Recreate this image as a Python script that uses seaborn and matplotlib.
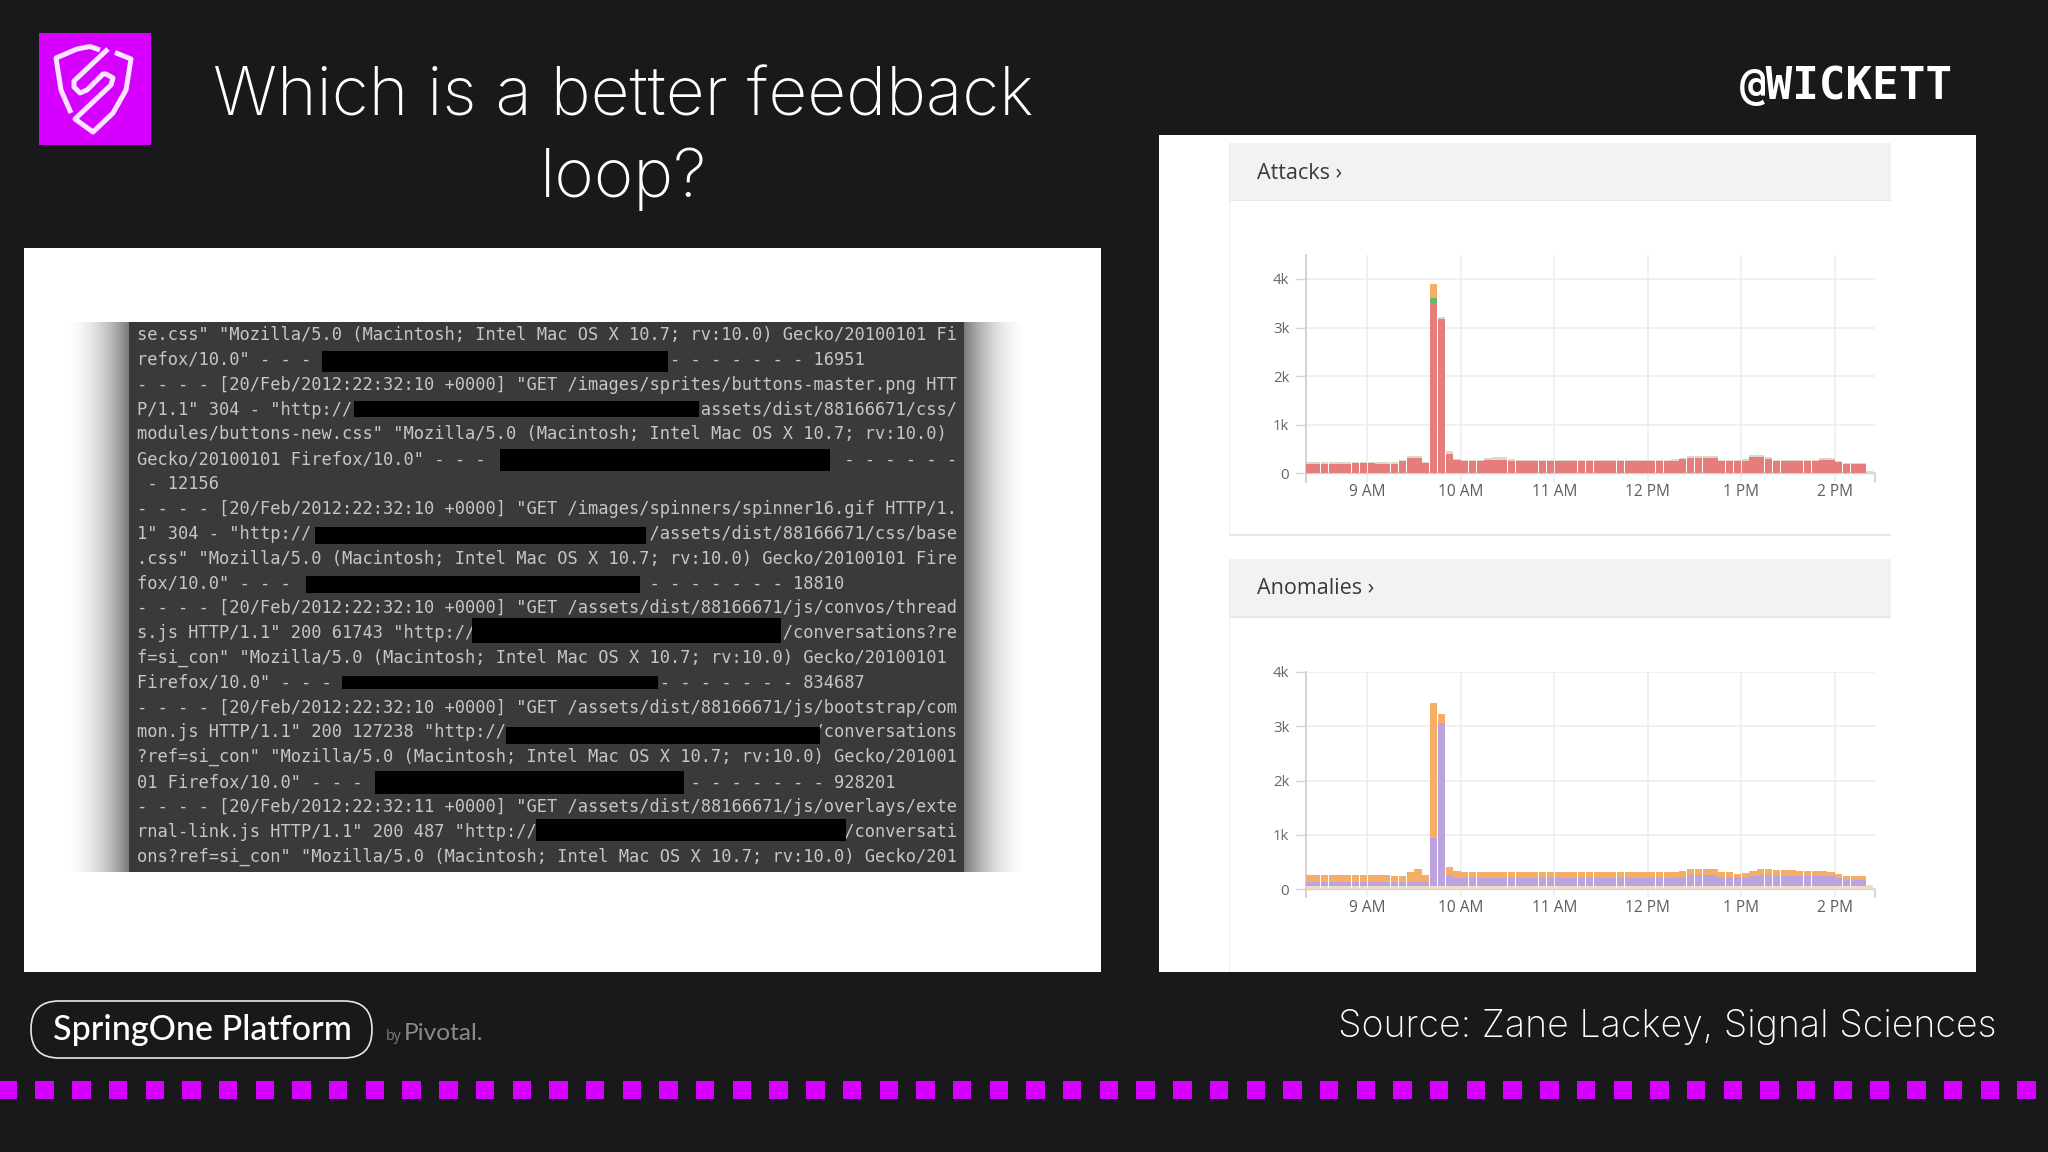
import numpy as np
import pandas as pd
import seaborn as sns
import matplotlib
matplotlib.use("Agg")
import matplotlib.pyplot as plt
from matplotlib.patches import Rectangle, FancyBboxPatch

# ---------- data ----------
hour_ticks = [9, 10, 11, 12, 13, 14]
hour_labels = ["9 AM", "10 AM", "11 AM", "12 PM", "1 PM", "2 PM"]
bar_start_hour = 8 + 20 / 60
bar_hours = 5 / 60
attack_ticks = [0, 1000, 2000, 3000, 4000]
anomaly_ticks = [0, 1000, 2000, 3000, 4000]
k_labels = ["0", "1k", "2k", "3k", "4k"]

attacks_red = [200, 200, 200, 200, 200, 200, 205, 210, 205, 200, 200, 200, 250, 310, 310, 215,
               3500, 3180, 390, 265, 250, 250, 255, 265, 270, 270, 260, 250, 250, 250, 250, 250,
               255, 250, 250, 250, 250, 250, 250, 250, 250, 250, 255, 250, 250, 250, 250, 260,
               285, 320, 320, 320, 315, 255, 250, 250, 255, 340, 340, 290, 255, 255, 255, 255,
               255, 255, 270, 270, 230, 190, 190, 190, 0]
attacks_cap = [30, 30, 30, 30, 30, 30, 30, 30, 30, 30, 30, 30, 30, 40, 40, 25,
               0, 40, 70, 20, 20, 20, 25, 50, 60, 70, 40, 25, 20, 20, 20, 25,
               25, 25, 25, 25, 25, 25, 30, 30, 25, 25, 25, 25, 30, 30, 30, 35,
               30, 30, 35, 35, 35, 25, 25, 25, 30, 40, 45, 40, 25, 25, 25, 25,
               25, 25, 35, 35, 30, 30, 30, 30, 50]
attacks_green = [0] * 16 + [100] + [0] * 56
attacks_orange = [0] * 16 + [300] + [0] * 56

anomalies_cream = [55, 55, 55, 55, 55, 55, 55, 55, 55, 55, 55, 55, 55, 55, 55, 55,
                   55, 55, 55, 55, 55, 55, 55, 55, 55, 55, 55, 55, 55, 55, 55, 55,
                   55, 55, 55, 55, 55, 55, 55, 55, 55, 55, 55, 55, 55, 55, 55, 55,
                   55, 55, 55, 55, 55, 55, 55, 55, 55, 55, 55, 55, 55, 55, 55, 55,
                   55, 55, 55, 55, 55, 55, 55, 55, 70]
anomalies_purple = [80, 80, 80, 80, 80, 80, 80, 80, 80, 80, 80, 80, 80, 80, 85, 75,
                    895, 2995, 195, 150, 145, 145, 145, 145, 145, 145, 145, 145, 145, 145, 145, 145,
                    145, 145, 145, 145, 145, 145, 145, 145, 145, 145, 145, 145, 145, 145, 145, 145,
                    165, 205, 215, 215, 215, 165, 165, 165, 175, 195, 200, 200, 195, 195, 195, 195,
                    195, 195, 190, 185, 155, 115, 115, 115, 0]
anomalies_orange = [125, 125, 125, 125, 120, 125, 125, 125, 125, 125, 125, 105, 110, 190, 235, 130,
                    2470, 170, 160, 125, 120, 120, 120, 120, 120, 120, 120, 120, 120, 120, 120, 120,
                    120, 120, 120, 120, 120, 120, 120, 120, 120, 120, 120, 120, 120, 120, 120, 120,
                    115, 110, 110, 110, 110, 100, 100, 65, 65, 85, 110, 110, 100, 100, 100, 90,
                    90, 90, 90, 85, 80, 70, 70, 70, 0]

log_lines = [
    'se.css" "Mozilla/5.0 (Macintosh; Intel Mac OS X 10.7; rv:10.0) Gecko/20100101 Fi',
    'refox/10.0" - - - ' + ' ' * 34 + '- - - - - - - 16951',
    '- - - - [20/Feb/2012:22:32:10 +0000] "GET /images/sprites/buttons-master.png HTT',
    'P/1.1" 304 - "http://' + ' ' * 34 + 'assets/dist/88166671/css/',
    'modules/buttons-new.css" "Mozilla/5.0 (Macintosh; Intel Mac OS X 10.7; rv:10.0)',
    'Gecko/20100101 Firefox/10.0" - - - ' + ' ' * 33 + ' - - - - - -',
    ' - 12156',
    '- - - - [20/Feb/2012:22:32:10 +0000] "GET /images/spinners/spinner16.gif HTTP/1.',
    '1" 304 - "http://' + ' ' * 33 + '/assets/dist/88166671/css/base',
    '.css" "Mozilla/5.0 (Macintosh; Intel Mac OS X 10.7; rv:10.0) Gecko/20100101 Fire',
    'fox/10.0" - - - ' + ' ' * 33 + ' - - - - - - - 18810',
    '- - - - [20/Feb/2012:22:32:10 +0000] "GET /assets/dist/88166671/js/convos/thread',
    's.js HTTP/1.1" 200 61743 "http://' + ' ' * 30 + '/conversations?re',
    'f=si_con" "Mozilla/5.0 (Macintosh; Intel Mac OS X 10.7; rv:10.0) Gecko/20100101',
    'Firefox/10.0" - - - ' + ' ' * 31 + '- - - - - - - 834687',
    '- - - - [20/Feb/2012:22:32:10 +0000] "GET /assets/dist/88166671/js/bootstrap/com',
    'mon.js HTTP/1.1" 200 127238 "http://' + ' ' * 30 + '/conversations',
    '?ref=si_con" "Mozilla/5.0 (Macintosh; Intel Mac OS X 10.7; rv:10.0) Gecko/201001',
    '01 Firefox/10.0" - - - ' + ' ' * 30 + ' - - - - - - - 928201',
    '- - - - [20/Feb/2012:22:32:11 +0000] "GET /assets/dist/88166671/js/overlays/exte',
    'rnal-link.js HTTP/1.1" 200 487 "http://' + ' ' * 30 + '/conversati',
    'ons?ref=si_con" "Mozilla/5.0 (Macintosh; Intel Mac OS X 10.7; rv:10.0) Gecko/201',
]
redactions = [(321.5, 351, 668, 372), (354, 401, 699, 417), (500, 449, 830, 471),
              (315, 527, 646, 544), (306, 576, 640, 593), (472, 618, 781, 643),
              (342, 676, 658, 689), (506, 727, 820, 744), (375, 771, 684, 794),
              (536, 819, 846, 841)]

# ---------- colours ----------
BG = "#19191B"
MAGENTA = "#D500FF"
RED = "#E77C7C"
CAP = "#DADAC8"
GREEN = "#6DB36D"
ORANGE = "#F5AE66"
PURPLE = "#BCA2DE"
CREAM = "#EFDCC6"
GRID = "#EDEDED"
AXIS = "#D2D2D2"

sns.set_theme(style="white")
plt.rcParams["font.family"] = ["Open Sans", "DejaVu Sans"]

W, H = 2048, 1152
fig = plt.figure(figsize=(W / 100, H / 100), dpi=100, facecolor=BG)
bg = fig.add_axes([0, 0, 1, 1])
bg.set_xlim(0, W)
bg.set_ylim(H, 0)
bg.axis("off")


def box(x0, y0, x1, y1, color, z=1, **kw):
    bg.add_patch(Rectangle((x0, y0), x1 - x0, y1 - y0, facecolor=color, edgecolor="none", zorder=z, **kw))


def px(size):
    return size * 0.72


# ---------- left panel ----------
box(23.5, 248, 1101, 972, "white")
ramp = np.linspace(0, 1, 64) ** 2 * 0.52
shade = np.zeros((1, 64, 4))
shade[..., 3] = ramp
bg.imshow(shade, extent=(62, 129, 872, 322), aspect="auto", zorder=2, interpolation="bilinear")
bg.imshow(shade[:, ::-1], extent=(964, 1031, 872, 322), aspect="auto", zorder=2, interpolation="bilinear")
bg.set_xlim(0, W)
bg.set_ylim(H, 0)
box(129, 322, 964, 872, "#3A3A3A", z=3)
for i, line in enumerate(log_lines):
    bg.text(137, 335 + i * 24.84, line, family="DejaVu Sans Mono", fontsize=px(16.95),
            color="#C6C6C6", va="center", ha="left", zorder=4)
for x0, y0, x1, y1 in redactions:
    box(x0, y0, x1, y1, "black", z=5)

# ---------- right panel ----------
box(1158.5, 134.5, 1976, 972, "white")
for y0, y1 in [(142.7, 200), (559, 616.7)]:
    box(1229, y0, 1890.6, y1, "#F3F2F0", z=2)
    box(1229, y1 - 0.5, 1890.6, y1 + 1.2, "#E9E8E6", z=2)
box(1229, 534, 1890.6, 536, "#E6E6E6", z=2)
box(1228.5, 142.7, 1229.8, 536, "#EEEEEE", z=2)
box(1228.5, 559, 1229.8, 972, "#EEEEEE", z=2)
bg.text(1257, 173.5, "Attacks ›", fontsize=px(21.5), color="#3A3A3A", va="center", ha="left", zorder=3)
bg.text(1257, 589, "Anomalies ›", fontsize=px(21.5), color="#3A3A3A", va="center", ha="left", zorder=3)


def chart(x0, y0, x1, y1, ylim, yticks, hue_order, palette, series):
    ax = fig.add_axes([x0 / W, 1 - y1 / H, (x1 - x0) / W, (y1 - y0) / H], facecolor="none")
    n = len(next(iter(series.values())))
    centers = bar_start_hour + (np.arange(n) + 0.5) * bar_hours
    df = pd.concat([pd.DataFrame({"hour": centers, "count": series[k], "kind": k}) for k in hue_order],
                   ignore_index=True)
    ax.axhline(0, color=AXIS, lw=1, zorder=1)
    sns.histplot(data=df, x="hour", weights="count", hue="kind", hue_order=hue_order, palette=palette,
                 binwidth=bar_hours, binrange=(bar_start_hour, bar_start_hour + n * bar_hours),
                 multiple="stack", element="bars", shrink=0.93, alpha=1, linewidth=0,
                 legend=False, ax=ax, zorder=3)
    ax.set_xlim(8.344, 14.427)
    ax.set_ylim(*ylim)
    ax.set_xlabel("")
    ax.set_ylabel("")
    ax.set_xticks(hour_ticks, hour_labels)
    ax.set_yticks(yticks, k_labels)
    ax.grid(True, color=GRID, lw=1.2, zorder=0)
    ax.set_axisbelow(True)
    ax.tick_params(axis="x", length=0, pad=2, labelsize=px(15.5), labelcolor="#5E5E5E")
    ax.tick_params(axis="y", length=7, width=1, color=AXIS, pad=5, labelsize=px(15), labelcolor="#666666", left=True)
    for s in ("top", "bottom"):
        ax.spines[s].set_visible(False)
    ax.spines["left"].set_color(AXIS)
    ax.spines["left"].set_linewidth(1.4)
    ax.spines["right"].set_color(AXIS)
    ax.spines["right"].set_bounds(ylim[0], 0)
    return ax


chart(1306, 255, 1874.7, 481.7, (-173, 4494), attack_ticks,
      ["orange", "green", "cap", "red"],
      {"orange": ORANGE, "green": GREEN, "cap": CAP, "red": RED},
      {"orange": attacks_orange, "green": attacks_green, "cap": attacks_cap, "red": attacks_red})
chart(1306, 671.7, 1874.7, 897.3, (-147, 4000), anomaly_ticks,
      ["orange", "purple", "cream"],
      {"orange": ORANGE, "purple": PURPLE, "cream": CREAM},
      {"orange": anomalies_orange, "purple": anomalies_purple, "cream": anomalies_cream})

# ---------- titles ----------
title = dict(fontsize=px(67.5), color="white", va="center", ha="center", family=["Inter", "DejaVu Sans"], fontweight="light")
bg.text(623, 98, "Which is a better feedback", **title)
bg.text(623, 179, "loop?", **title)
bg.text(1996, 1027, "Source: Zane Lackey, Signal Sciences", fontsize=px(37.6), color="white", va="center",
        ha="right", family=["Inter", "DejaVu Sans"], fontweight="light")
bg.text(1740, 87, "@WICKETT", family="DejaVu Sans Mono", fontweight="bold", fontsize=px(44.2), color="white",
        va="center", ha="left")

# ---------- logo ----------
box(38.7, 33, 150.7, 145, MAGENTA)
shield = [
    [(100, 50), (90, 46.5), (77, 49), (56, 58), (61, 90), (71, 113)],
    [(115, 52.5), (131, 59), (126, 90), (113, 113), (93, 132), (75, 119), (111, 85), (113, 78), (106, 74), (103, 74), (87, 90), (80, 93), (74, 87), (74, 81), (108, 49)],
]
for pts in shield:
    xs, ys = zip(*pts)
    bg.plot(xs, ys, color="#FBE4FF", lw=3.6, solid_joinstyle="round", solid_capstyle="butt", zorder=3)

# ---------- footer ----------
bg.add_patch(FancyBboxPatch((31 + 28, 1001 + 28), 341 - 56, 57 - 56, boxstyle="round,pad=28,rounding_size=28",
                            facecolor="none", edgecolor="#E8E8E8", lw=1.2, zorder=3))
bg.text(202, 1030, "SpringOne Platform", fontsize=px(34), color="white", va="center", ha="center",
        family=["Lato", "DejaVu Sans"], fontweight="medium")
bg.text(386, 1037, "by", fontsize=px(14), color="#7E7E7E", va="center", ha="left")
bg.text(404, 1033, "Pivotal.", fontsize=px(24.5), color="#8A8A8A", va="center", ha="left", family=["Lato", "DejaVu Sans"])

for x in np.arange(-1.3, W, 36.7):
    box(x, 1081, x + 18.4, 1099, MAGENTA)

bg.set_xlim(0, W)
bg.set_ylim(H, 0)
fig.savefig("out.png", dpi=100, facecolor=BG)
